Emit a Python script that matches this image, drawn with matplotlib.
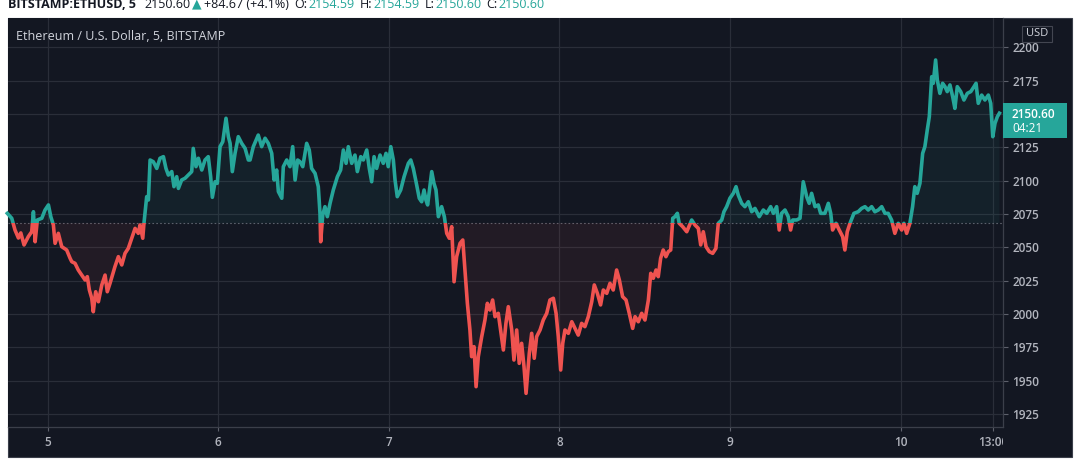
import matplotlib.pyplot as plt
from matplotlib.patches import Rectangle
from matplotlib.transforms import Bbox

plt.rcParams['font.family'] = ['Open Sans', 'DejaVu Sans']

# ETH/USD, 5 min, Bitstamp (day of month, price)
days = [
    4.763, 4.789, 4.808, 4.828, 4.842, 4.861, 4.886, 4.906, 4.916, 4.926,
    4.939, 4.965, 4.984, 5.004, 5.018, 5.033, 5.043, 5.062, 5.082, 5.111,
    5.131, 5.141, 5.160, 5.179, 5.199, 5.219, 5.232, 5.244, 5.258, 5.267,
    5.281, 5.297, 5.317, 5.336, 5.349, 5.365, 5.394, 5.414, 5.434, 5.453,
    5.472, 5.492, 5.512, 5.531, 5.541, 5.557, 5.564, 5.580, 5.590, 5.600,
    5.619, 5.639, 5.658, 5.678, 5.693, 5.707, 5.727, 5.740, 5.756, 5.766,
    5.785, 5.805, 5.824, 5.844, 5.853, 5.869, 5.883, 5.903, 5.922, 5.941,
    5.955, 5.965, 5.981, 5.994, 6.010, 6.026, 6.045, 6.059, 6.069, 6.082,
    6.098, 6.117, 6.137, 6.157, 6.176, 6.186, 6.205, 6.234, 6.254, 6.274,
    6.293, 6.313, 6.327, 6.342, 6.352, 6.372, 6.381, 6.401, 6.420, 6.436,
    6.450, 6.465, 6.479, 6.495, 6.518, 6.533, 6.547, 6.567, 6.586, 6.596,
    6.600, 6.612, 6.625, 6.639, 6.655, 6.674, 6.698, 6.717, 6.733, 6.749,
    6.762, 6.782, 6.801, 6.815, 6.835, 6.850, 6.870, 6.885, 6.899, 6.913,
    6.928, 6.948, 6.967, 6.983, 6.996, 7.011, 7.026, 7.036, 7.049, 7.069,
    7.089, 7.114, 7.128, 7.143, 7.159, 7.178, 7.192, 7.206, 7.217, 7.227,
    7.251, 7.264, 7.276, 7.290, 7.309, 7.325, 7.339, 7.354, 7.368, 7.382,
    7.397, 7.417, 7.433, 7.446, 7.460, 7.475, 7.485, 7.499, 7.511, 7.524,
    7.544, 7.563, 7.577, 7.592, 7.608, 7.622, 7.641, 7.671, 7.686, 7.700,
    7.720, 7.733, 7.749, 7.764, 7.778, 7.792, 7.804, 7.823, 7.837, 7.852,
    7.866, 7.886, 7.905, 7.925, 7.944, 7.964, 7.980, 7.993, 8.007, 8.019,
    8.032, 8.052, 8.072, 8.091, 8.110, 8.130, 8.149, 8.169, 8.189, 8.204,
    8.222, 8.241, 8.257, 8.277, 8.296, 8.315, 8.335, 8.351, 8.370, 8.390,
    8.409, 8.429, 8.443, 8.462, 8.482, 8.501, 8.521, 8.535, 8.550, 8.566,
    8.579, 8.593, 8.608, 8.624, 8.638, 8.652, 8.664, 8.677, 8.691, 8.702,
    8.722, 8.746, 8.775, 8.794, 8.814, 8.828, 8.843, 8.859, 8.878, 8.898,
    8.917, 8.931, 8.951, 8.964, 8.980, 8.999, 9.019, 9.035, 9.048, 9.068,
    9.087, 9.107, 9.127, 9.146, 9.171, 9.195, 9.215, 9.238, 9.254, 9.273,
    9.288, 9.302, 9.322, 9.341, 9.355, 9.367, 9.390, 9.410, 9.429, 9.449,
    9.464, 9.478, 9.498, 9.517, 9.531, 9.556, 9.576, 9.590, 9.601, 9.621,
    9.640, 9.660, 9.673, 9.687, 9.703, 9.726, 9.751, 9.771, 9.791, 9.810,
    9.830, 9.849, 9.869, 9.889, 9.908, 9.927, 9.947, 9.966, 9.986, 10.006,
    10.019, 10.035, 10.054, 10.070, 10.083, 10.097, 10.113, 10.129, 10.142, 10.156,
    10.168, 10.182, 10.191, 10.205, 10.215, 10.230, 10.246, 10.260, 10.273, 10.289,
    10.305, 10.318, 10.332, 10.352, 10.371, 10.391, 10.411, 10.430, 10.442, 10.455,
    10.475, 10.494, 10.514, 10.528, 10.540, 10.553, 10.567, 10.579,
]
prices = [
    2075.5, 2071.8, 2063.0, 2057.0, 2060.8, 2051.8, 2058.0, 2061.7, 2076.7, 2054.2,
    2070.5, 2071.8, 2078.0, 2081.8, 2073.0, 2066.8, 2053.0, 2060.5, 2050.5, 2048.0,
    2041.8, 2039.2, 2038.0, 2033.0, 2029.2, 2025.5, 2028.0, 2018.0, 2011.8, 2001.7,
    2016.7, 2009.2, 2021.8, 2029.2, 2016.7, 2023.0, 2035.5, 2043.0, 2036.8, 2045.5,
    2049.2, 2056.8, 2064.2, 2060.5, 2066.8, 2056.8, 2068.0, 2088.0, 2085.5, 2115.5,
    2114.2, 2109.2, 2116.8, 2118.0, 2109.2, 2104.2, 2106.8, 2095.5, 2103.0, 2094.2,
    2100.5, 2101.8, 2104.2, 2106.8, 2124.2, 2110.5, 2116.8, 2108.0, 2115.5, 2118.0,
    2103.0, 2087.5, 2099.2, 2098.0, 2125.5, 2129.2, 2146.8, 2133.0, 2128.0, 2106.8,
    2120.5, 2133.0, 2128.0, 2124.2, 2115.5, 2115.5, 2125.5, 2134.2, 2125.5, 2131.8,
    2128.0, 2120.5, 2100.5, 2108.0, 2091.8, 2086.8, 2110.5, 2115.5, 2110.5, 2125.5,
    2100.5, 2115.5, 2114.2, 2110.5, 2128.0, 2123.0, 2109.2, 2105.5, 2095.5, 2075.5,
    2054.2, 2074.2, 2080.5, 2073.0, 2083.0, 2093.0, 2103.0, 2108.0, 2123.0, 2113.0,
    2125.5, 2113.0, 2119.2, 2106.8, 2118.0, 2115.5, 2123.0, 2109.2, 2099.2, 2118.0,
    2109.2, 2119.2, 2113.0, 2120.5, 2110.5, 2125.5, 2115.5, 2100.5, 2088.0, 2093.0,
    2103.0, 2113.0, 2115.5, 2109.2, 2099.2, 2086.8, 2084.2, 2093.0, 2085.5, 2081.8,
    2106.8, 2098.0, 2093.0, 2073.0, 2080.5, 2073.0, 2060.5, 2056.8, 2065.5, 2024.2,
    2043.0, 2053.0, 2055.5, 2033.0, 2008.0, 1988.0, 1968.0, 1975.5, 1945.5, 1968.0,
    1983.0, 1995.5, 2008.0, 2003.0, 2010.5, 1998.0, 2000.5, 1973.0, 1993.0, 2005.5,
    1988.0, 1965.5, 1988.0, 1963.0, 1978.0, 1960.5, 1940.5, 1970.5, 1985.5, 1966.8,
    1983.0, 1988.0, 1995.5, 2000.5, 2010.5, 2011.8, 2000.5, 1983.0, 1958.0, 1978.0,
    1988.0, 1985.5, 1994.2, 1989.2, 1984.2, 1993.0, 1990.5, 1998.0, 2009.2, 2021.8,
    2015.5, 2006.8, 2018.0, 2015.5, 2023.0, 2018.0, 2033.0, 2025.5, 2013.0, 2010.5,
    2000.5, 1989.2, 1998.0, 1994.2, 2000.5, 1995.5, 2010.5, 2030.5, 2026.8, 2033.0,
    2028.0, 2041.8, 2048.0, 2043.0, 2046.8, 2048.0, 2071.8, 2073.0, 2075.5, 2068.0,
    2065.5, 2061.7, 2070.5, 2066.8, 2064.2, 2051.8, 2061.7, 2050.5, 2046.8, 2045.5,
    2049.2, 2068.0, 2070.5, 2076.7, 2080.5, 2086.8, 2090.5, 2095.5, 2089.2, 2083.0,
    2080.5, 2084.2, 2076.7, 2079.2, 2073.0, 2078.0, 2075.5, 2080.5, 2075.5, 2080.5,
    2063.0, 2075.5, 2078.0, 2073.0, 2063.0, 2070.5, 2070.5, 2071.8, 2099.2, 2088.0,
    2083.0, 2090.5, 2080.5, 2081.8, 2075.5, 2075.5, 2083.0, 2075.5, 2063.0, 2068.0,
    2063.0, 2058.0, 2048.0, 2061.7, 2068.0, 2075.5, 2076.7, 2079.2, 2080.5, 2078.0,
    2080.5, 2076.7, 2078.0, 2080.5, 2075.5, 2075.5, 2070.5, 2060.5, 2068.0, 2063.0,
    2068.0, 2060.5, 2068.0, 2080.5, 2095.5, 2090.5, 2098.0, 2120.5, 2125.5, 2138.0,
    2148.0, 2178.0, 2173.0, 2190.5, 2175.5, 2165.5, 2173.0, 2170.5, 2166.8, 2171.8,
    2163.0, 2154.2, 2170.5, 2166.8, 2160.5, 2165.5, 2166.8, 2170.5, 2173.0, 2158.0,
    2164.2, 2160.5, 2164.2, 2158.0, 2133.0, 2143.0, 2148.0, 2150.6,
]

base_level = 2068.0
last_price = 2150.60
countdown = "04:21"
y_ticks = [1925, 1950, 1975, 2000, 2025, 2050, 2075, 2100, 2125, 2150, 2175, 2200]
x_ticks = [5, 6, 7, 8, 9, 10, 10 + 13 / 24]
x_labels = ["5", "6", "7", "8", "9", "10", "13:00"]

BG = "#131722"
GRID = "#2a2e39"
TEAL = "#26a69a"
RED = "#ef5350"
TXT = "#b2b5be"

W, H = 1080, 468
fig = plt.figure(figsize=(W / 100, H / 100), dpi=100)
fig.patch.set_facecolor("white")

# dark panel behind plot + price scale + time scale
fig.patches.append(Rectangle((8 / W, 1 - 457 / H), (1072 - 8) / W, (457 - 18) / H,
                             transform=fig.transFigure, facecolor=BG,
                             edgecolor="#3b3f4a", lw=0.8, zorder=-1))

ax = fig.add_axes([8 / W, 1 - 427 / H, (1003 - 8) / W, (427 - 18) / H])
ax.set_facecolor(BG)
ax.set_xlim(4.767, 10.600)
ax.set_ylim(1915.25, 2222)

ax.grid(True, color=GRID, lw=0.9)
ax.set_axisbelow(True)
ax.axhline(base_level, color="#5d606b", lw=0.8, ls=(0, (1.5, 2)), zorder=2)

# baseline style: teal above base level, red below
ax.fill_between(days, prices, base_level, where=[p >= base_level for p in prices],
                interpolate=True, color=TEAL, alpha=0.07, lw=0, zorder=2)
ax.fill_between(days, prices, base_level, where=[p <= base_level for p in prices],
                interpolate=True, color=RED, alpha=0.07, lw=0, zorder=2)

up_line, = ax.plot(days, prices, color=TEAL, lw=2.6, zorder=3, solid_joinstyle="round")
dn_line, = ax.plot(days, prices, color=RED, lw=2.6, zorder=3, solid_joinstyle="round")
up_line.set_clip_path(Rectangle((4, base_level), 10, 500, transform=ax.transData))
dn_line.set_clip_path(Rectangle((4, base_level - 500), 10, 500, transform=ax.transData))

for s in ["top", "left"]:
    ax.spines[s].set_visible(False)
for s in ["right", "bottom"]:
    ax.spines[s].set_color("#3b3f4a")
    ax.spines[s].set_linewidth(0.9)

ax.yaxis.tick_right()
ax.set_yticks(y_ticks)
ax.tick_params(axis="y", length=3.5, width=0.8, color="#5d606b", labelcolor=TXT,
               labelsize=8.5, pad=3)
ax.set_xticks(x_ticks)
ax.set_xticklabels(x_labels)
ax.tick_params(axis="x", length=3, width=0.8, color="#5d606b", labelcolor=TXT,
               labelsize=8.5, pad=3.5)
for lab in ax.get_yticklabels() + ax.get_xticklabels():
    lab.set_fontweight("semibold")
# the 2150 label sits under the last-price tag
ax.get_yticklabels()[y_ticks.index(2150)].set_visible(False)
# time label "13:00" gets cut by the price scale
last_lab = ax.get_xticklabels()[-1]
last_lab.set_clip_on(True)
last_lab.set_clip_box(Bbox.from_extents(0, 0, 1003, H))

# legend text top-left
fig.text(16 / W, 1 - 36 / H, "Ethereum / U.S. Dollar, 5, BITSTAMP",
         color="#d1d4dc", fontsize=9, va="center", ha="left")

# currency box on price scale
fig.patches.append(Rectangle((1022 / W, 1 - 42 / H), 30 / W, 16 / H, transform=fig.transFigure,
                             facecolor=BG, edgecolor="#434651", lw=0.8, zorder=5))
fig.text(1037 / W, 1 - 34 / H, "USD", color="#d1d4dc", fontsize=8, ha="center",
         va="center", zorder=6)

# last price label
fig.canvas.draw()
rend = fig.canvas.get_renderer()
py = ax.transData.transform((10, last_price))[1]
fig.patches.append(Rectangle((1003 / W, (py - 25) / H), 64 / W, 35 / H,
                             transform=fig.transFigure, facecolor=TEAL, lw=0, zorder=5))
fig.text(1012 / W, (py - 1) / H, f"{last_price:.2f}", color="white", fontsize=8.5,
         fontweight="semibold", ha="left", va="center", zorder=6)
fig.text(1012 / W, (py - 15) / H, countdown, color="white", fontsize=8.5,
         ha="left", va="center", zorder=6)

# header line, cut off at the top of the screenshot
hy = 1 - 7.5 / H
hdr = [
    (0, "BITSTAMP:ETHUSD, 5", "#131722", "bold"),
    (8, "2150.60", "#131722", "normal"),
    (2, "\u25b2", TEAL, "normal"),
    (2, "+84.67 (+4.1%)", "#131722", "normal"),
    (6, "O:", "#131722", "normal"),
    (1, "2154.59", TEAL, "normal"),
    (5, "H:", "#131722", "normal"),
    (1, "2154.59", TEAL, "normal"),
    (5, "L:", "#131722", "normal"),
    (1, "2150.60", TEAL, "normal"),
    (5, "C:", "#131722", "normal"),
    (1, "2150.60", TEAL, "normal"),
]
x = 8
for gap, s, c, w in hdr:
    x += gap
    t = fig.text(x / W, hy, s, color=c, fontsize=9, fontweight=w, ha="left", va="baseline")
    x = t.get_window_extent(rend).x1

fig.savefig("out.png", dpi=100, facecolor=fig.get_facecolor())
